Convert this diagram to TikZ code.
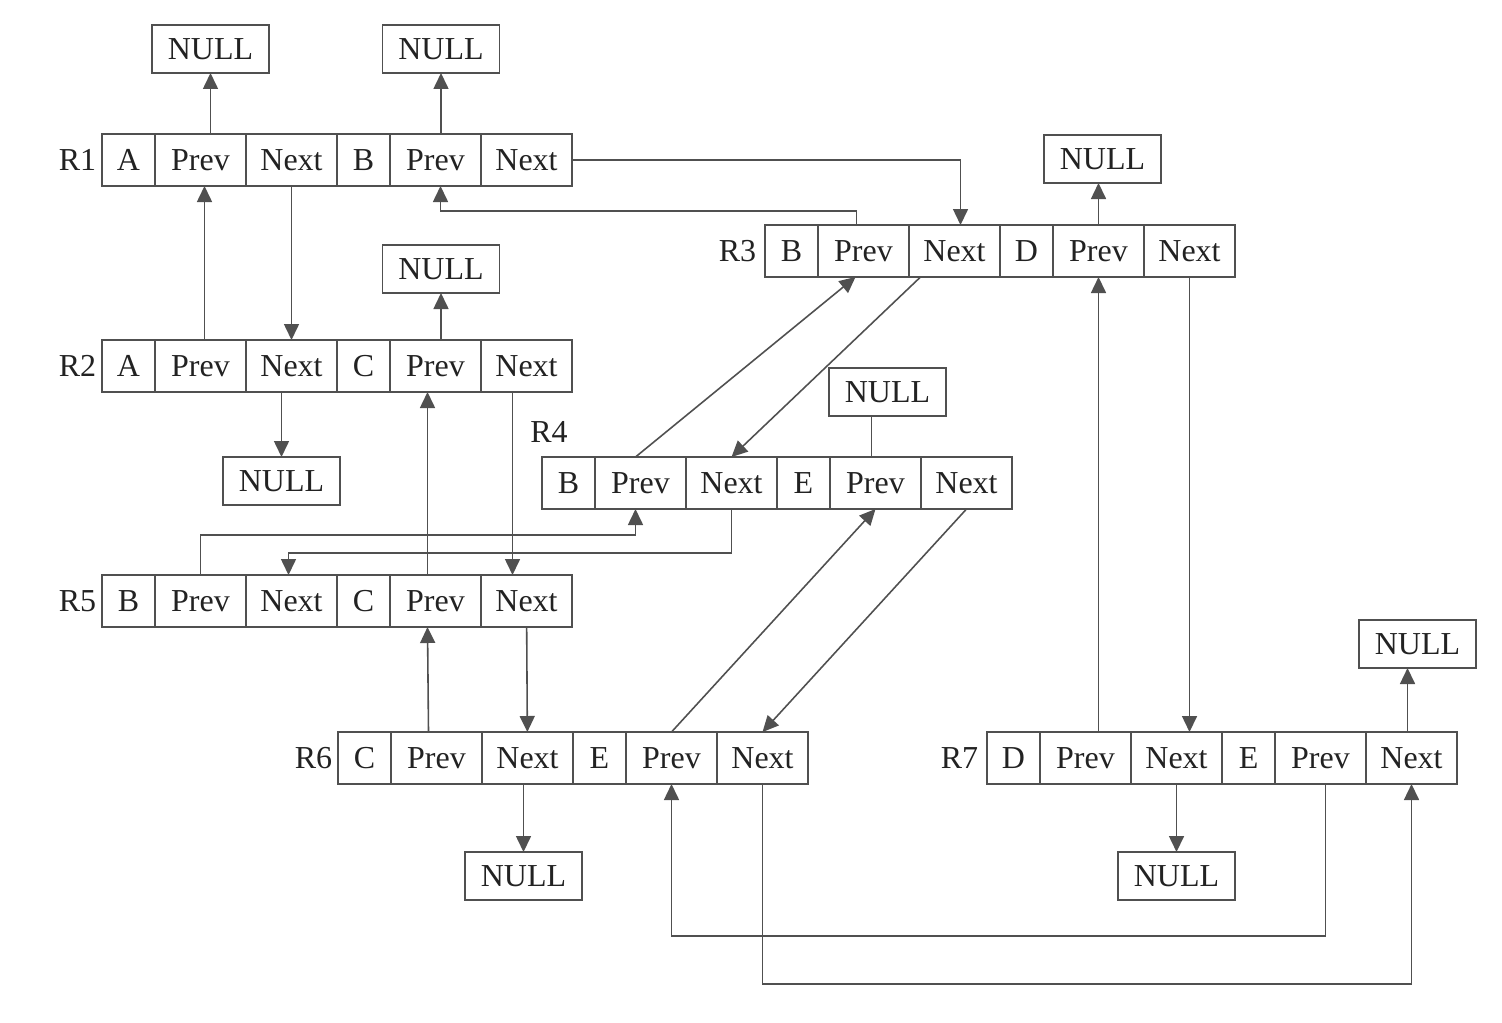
\documentclass[tikz,border=0pt]{standalone}
\usepackage{fontspec}
\setmainfont{Liberation Serif}
\usepackage{tikz}
\usetikzlibrary{arrows.meta,positioning}

\definecolor{inkgray}{HTML}{222222}
\definecolor{linegray}{HTML}{505050}

\begin{document}
\begin{tikzpicture}[%
    >={Triangle[length=1.6mm,width=1.5mm]},
    color=linegray,
    line width=0.45pt,
    cell/.style={draw=linegray, minimum height=0.52cm,
      inner sep=0pt, outer sep=0pt, text=inkgray,
      font=\fontsize{9.1pt}{11pt}\selectfont},
    keycell/.style={cell, minimum width=0.53cm},
    ptrcell/.style={cell, minimum width=0.91cm},
    nullbox/.style={cell, minimum width=1.17cm, minimum height=0.48cm},
    rlabel/.style={inner sep=0pt, text=inkgray,
      font=\fontsize{9.1pt}{11pt}\selectfont}
  ]
  \useasboundingbox (0,0) rectangle (15.02,-10.22);

  % R1
  \node[keycell, anchor=west] (r1a) at (1.02,-1.60) {A};
  \node[ptrcell, right=0pt of r1a] (r1p1) {Prev};
  \node[ptrcell, right=0pt of r1p1] (r1n1) {Next};
  \node[keycell, right=0pt of r1n1] (r1b) {B};
  \node[ptrcell, right=0pt of r1b] (r1p2) {Prev};
  \node[ptrcell, right=0pt of r1p2] (r1n2) {Next};
  \node[rlabel, left=0.05cm of r1a] (l1) {R1};

  % R2
  \node[keycell, anchor=west] (r2a) at (1.02,-3.66) {A};
  \node[ptrcell, right=0pt of r2a] (r2p1) {Prev};
  \node[ptrcell, right=0pt of r2p1] (r2n1) {Next};
  \node[keycell, right=0pt of r2n1] (r2b) {C};
  \node[ptrcell, right=0pt of r2b] (r2p2) {Prev};
  \node[ptrcell, right=0pt of r2p2] (r2n2) {Next};
  \node[rlabel, left=0.05cm of r2a] (l2) {R2};

  % R3
  \node[keycell, anchor=west] (r3a) at (7.65,-2.51) {B};
  \node[ptrcell, right=0pt of r3a] (r3p1) {Prev};
  \node[ptrcell, right=0pt of r3p1] (r3n1) {Next};
  \node[keycell, right=0pt of r3n1] (r3b) {D};
  \node[ptrcell, right=0pt of r3b] (r3p2) {Prev};
  \node[ptrcell, right=0pt of r3p2] (r3n2) {Next};
  \node[rlabel, left=0.08cm of r3a] (l3) {R3};

  % R4
  \node[keycell, anchor=west] (r4a) at (5.42,-4.83) {B};
  \node[ptrcell, right=0pt of r4a] (r4p1) {Prev};
  \node[ptrcell, right=0pt of r4p1] (r4n1) {Next};
  \node[keycell, right=0pt of r4n1] (r4b) {E};
  \node[ptrcell, right=0pt of r4b] (r4p2) {Prev};
  \node[ptrcell, right=0pt of r4p2] (r4n2) {Next};
  \node[rlabel, above=0.14cm of r4a.north west, xshift=0.07cm] (l4) {R4};

  % R5
  \node[keycell, anchor=west] (r5a) at (1.02,-6.01) {B};
  \node[ptrcell, right=0pt of r5a] (r5p1) {Prev};
  \node[ptrcell, right=0pt of r5p1] (r5n1) {Next};
  \node[keycell, right=0pt of r5n1] (r5b) {C};
  \node[ptrcell, right=0pt of r5b] (r5p2) {Prev};
  \node[ptrcell, right=0pt of r5p2] (r5n2) {Next};
  \node[rlabel, left=0.05cm of r5a] (l5) {R5};

  % R6
  \node[keycell, anchor=west] (r6a) at (3.38,-7.58) {C};
  \node[ptrcell, right=0pt of r6a] (r6p1) {Prev};
  \node[ptrcell, right=0pt of r6p1] (r6n1) {Next};
  \node[keycell, right=0pt of r6n1] (r6b) {E};
  \node[ptrcell, right=0pt of r6b] (r6p2) {Prev};
  \node[ptrcell, right=0pt of r6p2] (r6n2) {Next};
  \node[rlabel, left=0.05cm of r6a] (l6) {R6};

  % R7
  \node[keycell, anchor=west] (r7a) at (9.87,-7.58) {D};
  \node[ptrcell, right=0pt of r7a] (r7p1) {Prev};
  \node[ptrcell, right=0pt of r7p1] (r7n1) {Next};
  \node[keycell, right=0pt of r7n1] (r7b) {E};
  \node[ptrcell, right=0pt of r7b] (r7p2) {Prev};
  \node[ptrcell, right=0pt of r7p2] (r7n2) {Next};
  \node[rlabel, left=0.08cm of r7a] (l7) {R7};

  % NULL ends
  \node[nullbox, above=0.61cm of r1p1, xshift=0.10cm] (n1a) {NULL};
  \node[nullbox, above=0.61cm of r1p2, xshift=0.055cm] (n1b) {NULL};
  \node[nullbox, above=0.47cm of r2p2, xshift=0.055cm] (n2a) {NULL};
  \node[nullbox, below=0.65cm of r2n1, xshift=-0.10cm] (n2b) {NULL};
  \node[nullbox, above=0.42cm of r3p2, xshift=0.04cm] (n3) {NULL};
  \node[nullbox, above=0.41cm of r4p2, xshift=0.12cm] (n4) {NULL};
  \node[nullbox, below=0.68cm of r6n1, xshift=-0.04cm] (n6) {NULL};
  \node[nullbox, below=0.68cm of r7n1] (n7a) {NULL};
  \node[nullbox, above=0.64cm of r7n2, xshift=0.06cm] (n7b) {NULL};

  % links
  \draw[->] (n1a |- r1p1.north) -- (n1a);
  \draw[->] (n1b |- r1p2.north) -- (n1b);
  \draw[->] (r1n2.east) -| ([xshift=0.06cm]r3n1.north);
  \draw[->] ([xshift=0.04cm]r2p1.north) -- ([xshift=0.04cm]r1p1.south);
  \draw[->] (r1n1) -- (r2n1);
  \draw[->] (n2a |- r2p2.north) -- (n2a);
  \draw[->] (n2b |- r2n1.south) -- (n2b);
  \draw[->] ([xshift=-0.14cm]r2n2.south) -- ([xshift=-0.14cm]r5n2.north);
  \draw[->] ([xshift=-0.08cm]r5p2.north) -- ([xshift=-0.08cm]r2p2.south);

  \draw[->] ([xshift=-0.07cm]r3p1.north) -- ++(0,0.14) -| ([xshift=0.05cm]r1p2.south);
  \draw[->] (r3p2.north) -- (r3p2.north |- n3.south);
  \draw[->] ([xshift=-0.34cm]r3n1.south) -- (r4n1.north);
  \draw[->] ([xshift=-0.05cm]r4p1.north) -- ([xshift=-0.08cm]r3p1.south);
  \draw[->] (r3n2.south) -- (r3n2.south |- r7n1.north);
  \draw[->] (r3p2.south |- r7p1.north) -- (r3p2.south);

  \draw ([xshift=-0.04cm]r4p2.north) -- ([xshift=-0.04cm]r4p2.north |- n4.south);
  \draw[->] (r5p1.north) -- ++(0,0.40) -| ([xshift=-0.05cm]r4p1.south);
  \draw[->] (r4n1.south) -- ++(0,-0.44) -| ([xshift=-0.03cm]r5n1.north);
  \draw[->] (r4n2.south) -- (r6n2.north);
  \draw[->] (r6p2.north) -- (r4p2.south);

  \draw[->] (r5n2) -- (r6n1);
  \draw[->] ([xshift=-0.08cm]r6p1.north) -- ([xshift=-0.08cm]r5p2.south);
  \draw[->] (n6 |- r6n1.south) -- (n6);
  \draw[->] ([xshift=0.05cm]r7p2.south) -- ++(0,-1.52) -| (r6p2.south);
  \draw[->] (r6n2.south) -- ++(0,-2.00) -| (r7n2.south);
  \draw[->] (n7a |- r7n1.south) -- (n7a);
  \draw[->] ([xshift=-0.04cm]r7n2.north) -- ([xshift=-0.04cm]r7n2.north |- n7b.south);
\end{tikzpicture}
\end{document}
